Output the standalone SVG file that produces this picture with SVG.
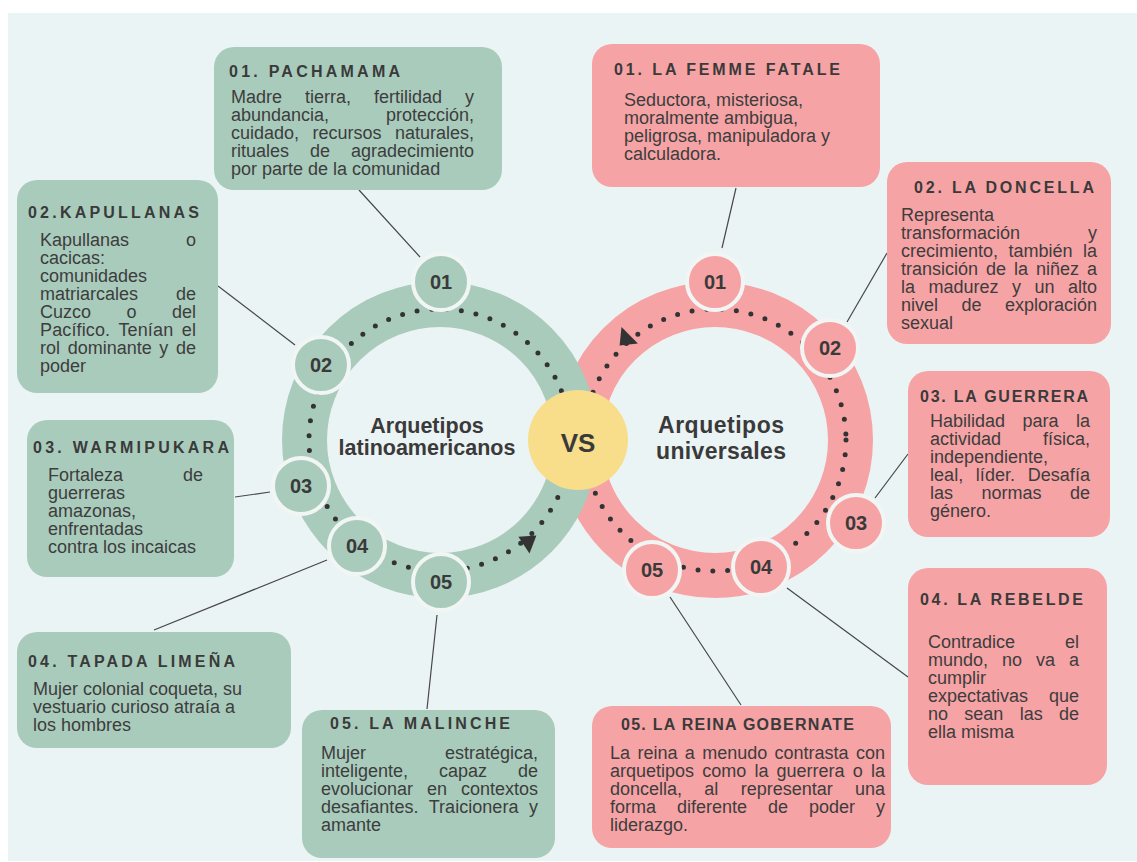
<svg xmlns="http://www.w3.org/2000/svg" width="1137" height="862" viewBox="0 0 1137 862">
<style>
.bg{fill:#ebf4f5}
.gbox{fill:#a9cbbc}
.pbox{fill:#f6a3a5}
.ttl{font-family:"Liberation Sans",Arial,sans-serif;font-weight:bold;font-size:16px;fill:#3a3a3a}
.bd{font-family:"Liberation Sans",Arial,sans-serif;font-size:18px;fill:#3d3d3d}
.num{font-family:"Liberation Sans",Arial,sans-serif;font-weight:bold;font-size:20px;fill:#3a3a3a;text-anchor:middle}
.ctr{font-family:"Liberation Sans",Arial,sans-serif;font-weight:bold;fill:#3a3a3a;text-anchor:middle}
.gn{fill:#a9cbbc;stroke:#f1f6f4;stroke-width:4}
.pn{fill:#f6a3a5;stroke:#f1f6f4;stroke-width:4}
.dots{fill:none;stroke:#333;stroke-width:5;stroke-linecap:round;stroke-dasharray:0 14.85}
#connectors line{stroke:#474747;stroke-width:1.2}
</style>
<rect class="bg" x="8" y="13" width="1129" height="848"/>

<g id="rings">
  <circle cx="715" cy="440" r="135.5" fill="none" stroke="#f6a3a5" stroke-width="45"/>
  <circle cx="715" cy="440" r="131" class="dots"/>
  <circle cx="440" cy="440" r="135.5" fill="none" stroke="#a9cbbc" stroke-width="45"/>
  <circle cx="440" cy="440" r="131" class="dots"/>
  <polygon points="518.4,536.8 536.4,535.6 529.5,553.6" fill="#333"/>
  <polygon points="621.5,327.1 619.6,345.4 637.9,343.5" fill="#333"/>
</g>

<g id="connectors">
  <line x1="359" y1="190" x2="420" y2="257"/>
  <line x1="218" y1="286" x2="295" y2="345"/>
  <line x1="235" y1="497" x2="270" y2="492"/>
  <line x1="327" y1="560" x2="154" y2="630"/>
  <line x1="437" y1="615" x2="427" y2="709"/>
  <line x1="722" y1="248" x2="736" y2="188"/>
  <line x1="847" y1="322" x2="887" y2="253"/>
  <line x1="875" y1="498" x2="908" y2="454"/>
  <line x1="787" y1="588" x2="908" y2="677"/>
  <line x1="670" y1="597" x2="741" y2="705"/>
</g>

<g id="vs">
  <circle cx="578" cy="440" r="50" fill="#f8dd8b"/>
  <text class="ctr" x="578" y="452" font-size="26">VS</text>
</g>
<g id="label-left">
  <text class="ctr" x="427" y="433" font-size="21.5">Arquetipos</text>
  <text class="ctr" x="427" y="455" font-size="21.5">latinoamericanos</text>
</g>
<g id="label-right">
  <text class="ctr" x="721" y="433" font-size="23" textLength="126" lengthAdjust="spacing">Arquetipos</text>
  <text class="ctr" x="721" y="459" font-size="23" textLength="130" lengthAdjust="spacing">universales</text>
</g>

<g id="node-l01"><circle class="gn" cx="441" cy="282" r="28"/><text class="num" x="441" y="289">01</text></g>
<g id="node-l02"><circle class="gn" cx="321" cy="365" r="28"/><text class="num" x="321" y="372">02</text></g>
<g id="node-l03"><circle class="gn" cx="301" cy="486" r="28"/><text class="num" x="301" y="493">03</text></g>
<g id="node-l04"><circle class="gn" cx="357" cy="546" r="28"/><text class="num" x="357" y="553">04</text></g>
<g id="node-l05"><circle class="gn" cx="441" cy="582" r="28"/><text class="num" x="441" y="589">05</text></g>
<g id="node-r01"><circle class="pn" cx="715" cy="282" r="28"/><text class="num" x="715" y="289">01</text></g>
<g id="node-r02"><circle class="pn" cx="830" cy="348" r="28"/><text class="num" x="830" y="355">02</text></g>
<g id="node-r03"><circle class="pn" cx="856" cy="523" r="28"/><text class="num" x="856" y="530">03</text></g>
<g id="node-r04"><circle class="pn" cx="761" cy="567" r="28"/><text class="num" x="761" y="574">04</text></g>
<g id="node-r05"><circle class="pn" cx="652" cy="570" r="28"/><text class="num" x="652" y="577">05</text></g>

<g id="box-pachamama">
  <rect class="gbox" x="214" y="47" width="288" height="143" rx="20"/>
  <text class="ttl" x="229" y="77" textLength="171" lengthAdjust="spacing">01. PACHAMAMA</text>
  <text class="bd" x="231" y="103" word-spacing="18" textLength="243" lengthAdjust="spacing">Madre tierra, fertilidad y</text>
  <text class="bd" x="231" y="121" word-spacing="51.9" textLength="243" lengthAdjust="spacing">abundancia, protección,</text>
  <text class="bd" x="231" y="139" word-spacing="8.45" textLength="243" lengthAdjust="spacing">cuidado, recursos naturales,</text>
  <text class="bd" x="231" y="157" word-spacing="16" textLength="243" lengthAdjust="spacing">rituales de agradecimiento</text>
  <text class="bd" x="231" y="175">por parte de la comunidad</text>
</g>

<g id="box-kapullanas">
  <rect class="gbox" x="17" y="180" width="201" height="213" rx="20"/>
  <text class="ttl" x="28" y="218" textLength="171" lengthAdjust="spacing">02.KAPULLANAS</text>
  <text class="bd" x="40" y="246" word-spacing="51.9" textLength="156" lengthAdjust="spacing">Kapullanas o</text>
  <text class="bd" x="40" y="264">cacicas:</text>
  <text class="bd" x="40" y="282">comunidades</text>
  <text class="bd" x="40" y="300" word-spacing="33" textLength="156" lengthAdjust="spacing">matriarcales de</text>
  <text class="bd" x="40" y="318" word-spacing="30.5" textLength="156" lengthAdjust="spacing">Cuzco o del</text>
  <text class="bd" x="40" y="336" word-spacing="3.45" textLength="156" lengthAdjust="spacing">Pacífico. Tenían el</text>
  <text class="bd" x="40" y="354" word-spacing="2.6" textLength="156" lengthAdjust="spacing">rol dominante y de</text>
  <text class="bd" x="40" y="372">poder</text>
</g>

<g id="box-warmipukara">
  <rect class="gbox" x="27" y="420" width="207" height="157" rx="20"/>
  <text class="ttl" x="33" y="453" textLength="196" lengthAdjust="spacing">03. WARMIPUKARA</text>
  <text class="bd" x="48" y="481" word-spacing="55" textLength="155" lengthAdjust="spacing">Fortaleza de</text>
  <text class="bd" x="48" y="499">guerreras</text>
  <text class="bd" x="48" y="517">amazonas,</text>
  <text class="bd" x="48" y="535">enfrentadas</text>
  <text class="bd" x="48" y="553">contra los incaicas</text>
</g>

<g id="box-tapada">
  <rect class="gbox" x="17" y="632" width="274" height="116" rx="20"/>
  <text class="ttl" x="28" y="667" textLength="207" lengthAdjust="spacing">04. TAPADA LIMEÑA</text>
  <text class="bd" x="33" y="695">Mujer colonial coqueta, su</text>
  <text class="bd" x="33" y="713">vestuario curioso atraía a</text>
  <text class="bd" x="33" y="731">los hombres</text>
</g>

<g id="box-malinche">
  <rect class="gbox" x="302" y="710" width="253" height="148" rx="20"/>
  <text class="ttl" x="330" y="729" textLength="180" lengthAdjust="spacing">05. LA MALINCHE</text>
  <text class="bd" x="321" y="759" word-spacing="74" textLength="217" lengthAdjust="spacing">Mujer estratégica,</text>
  <text class="bd" x="321" y="777" word-spacing="26" textLength="217" lengthAdjust="spacing">inteligente, capaz de</text>
  <text class="bd" x="321" y="795" word-spacing="9" textLength="217" lengthAdjust="spacing">evolucionar en contextos</text>
  <text class="bd" x="321" y="813" word-spacing="5.5" textLength="217" lengthAdjust="spacing">desafiantes. Traicionera y</text>
  <text class="bd" x="321" y="831">amante</text>
</g>

<g id="box-femme">
  <rect class="pbox" x="592" y="44" width="288" height="143" rx="20"/>
  <text class="ttl" x="614" y="75" textLength="226" lengthAdjust="spacing">01. LA FEMME FATALE</text>
  <text class="bd" x="624" y="106">Seductora, misteriosa,</text>
  <text class="bd" x="624" y="124">moralmente ambigua,</text>
  <text class="bd" x="624" y="142">peligrosa, manipuladora y</text>
  <text class="bd" x="624" y="160">calculadora.</text>
</g>

<g id="box-doncella">
  <rect class="pbox" x="887" y="162" width="224" height="182" rx="20"/>
  <text class="ttl" x="914" y="193" textLength="180" lengthAdjust="spacing">02. LA DONCELLA</text>
  <text class="bd" x="901" y="221">Representa</text>
  <text class="bd" x="901" y="239" word-spacing="63" textLength="196" lengthAdjust="spacing">transformación y</text>
  <text class="bd" x="901" y="257" word-spacing="5.45" textLength="196" lengthAdjust="spacing">crecimiento, también la</text>
  <text class="bd" x="901" y="275" word-spacing="3" textLength="196" lengthAdjust="spacing">transición de la niñez a</text>
  <text class="bd" x="901" y="293" word-spacing="8.5" textLength="196" lengthAdjust="spacing">la madurez y un alto</text>
  <text class="bd" x="901" y="311" word-spacing="18.5" textLength="196" lengthAdjust="spacing">nivel de exploración</text>
  <text class="bd" x="901" y="329">sexual</text>
</g>

<g id="box-guerrera">
  <rect class="pbox" x="908" y="371" width="202" height="166" rx="20"/>
  <text class="ttl" x="920" y="402" textLength="168" lengthAdjust="spacing">03. LA GUERRERA</text>
  <text class="bd" x="930" y="427" word-spacing="12.5" textLength="160" lengthAdjust="spacing">Habilidad para la</text>
  <text class="bd" x="930" y="445" word-spacing="37" textLength="160" lengthAdjust="spacing">actividad física,</text>
  <text class="bd" x="930" y="463">independiente,</text>
  <text class="bd" x="930" y="481" word-spacing="7.5" textLength="160" lengthAdjust="spacing">leal, líder. Desafía</text>
  <text class="bd" x="930" y="499" word-spacing="23.5" textLength="160" lengthAdjust="spacing">las normas de</text>
  <text class="bd" x="930" y="517">género.</text>
</g>

<g id="box-rebelde">
  <rect class="pbox" x="908" y="568" width="199" height="217" rx="20"/>
  <text class="ttl" x="920" y="605" textLength="163" lengthAdjust="spacing">04. LA REBELDE</text>
  <text class="bd" x="928" y="648" word-spacing="45" textLength="151" lengthAdjust="spacing">Contradice el</text>
  <text class="bd" x="928" y="666" word-spacing="9" textLength="151" lengthAdjust="spacing">mundo, no va a</text>
  <text class="bd" x="928" y="684">cumplir</text>
  <text class="bd" x="928" y="702" word-spacing="16" textLength="151" lengthAdjust="spacing">expectativas que</text>
  <text class="bd" x="928" y="720" word-spacing="11.3" textLength="151" lengthAdjust="spacing">no sean las de</text>
  <text class="bd" x="928" y="738">ella misma</text>
</g>

<g id="box-reina">
  <rect class="pbox" x="592" y="706" width="299" height="142" rx="20"/>
  <text class="ttl" x="621" y="730" textLength="233" lengthAdjust="spacing">05. LA REINA GOBERNATE</text>
  <text class="bd" x="610" y="759" word-spacing="2.4" textLength="275" lengthAdjust="spacing">La reina a menudo contrasta con</text>
  <text class="bd" x="610" y="777" word-spacing="3.2" textLength="275" lengthAdjust="spacing">arquetipos como la guerrera o la</text>
  <text class="bd" x="610" y="795" word-spacing="17.3" textLength="275" lengthAdjust="spacing">doncella, al representar una</text>
  <text class="bd" x="610" y="813" word-spacing="16" textLength="275" lengthAdjust="spacing">forma diferente de poder y</text>
  <text class="bd" x="610" y="831">liderazgo.</text>
</g>
</svg>
